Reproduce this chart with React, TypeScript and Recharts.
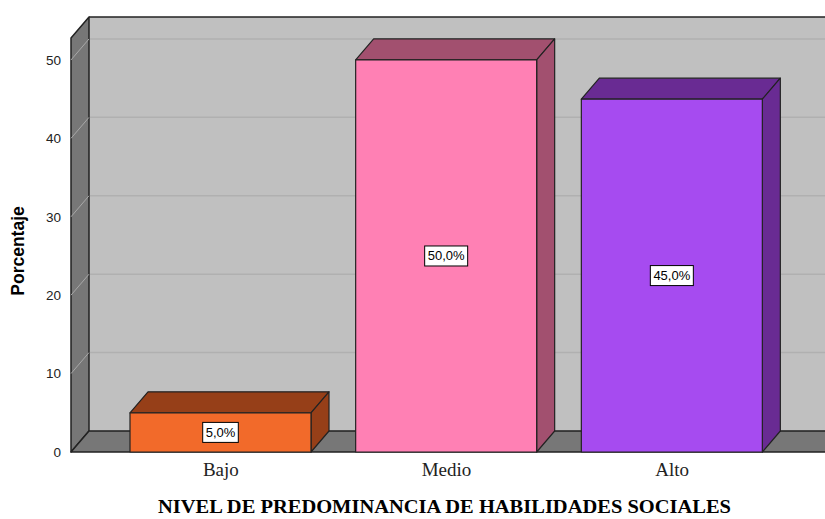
import React from "react";
import { BarChart, Bar, XAxis, YAxis, LabelList, usePlotArea } from "recharts";

const categories = ["Bajo", "Medio", "Alto"];
const percentages = [5.0, 50.0, 45.0];
const yTicks = [0, 10, 20, 30, 40, 50];
const yMax = 52.8;

const frontColors = ["#f26a2a", "#ff80b4", "#a64bf0"];
const darkColors = ["#963f18", "#a2506f", "#692b93"];

const data = categories.map((c, i) => ({
  name: c,
  value: percentages[i],
  front: frontColors[i],
  dark: darkColors[i],
}));

const DX = 18;
const DY = 21;
const WALL = "#777777";
const EDGE = "#222222";

// back wall, side wall, floor and grid lines
function Room() {
  const area = usePlotArea();
  if (!area) return null;
  const { x, y, width, height } = area;
  const bottom = y + height;
  const right = x + width;
  const yPos = (v: number) => bottom - (v / yMax) * height;
  return (
    <g>
      <rect x={x + DX} y={y - DY} width={width + 40} height={height} fill="#c0c0c0" />
      {yTicks.map((t) => (
        <g key={t}>
          <line x1={x + DX} x2={right + 40} y1={yPos(t) - DY} y2={yPos(t) - DY} stroke="#b0b0b0" strokeWidth={1.5} />
        </g>
      ))}
      <polygon
        points={`${x},${y} ${x + DX},${y - DY} ${x + DX},${bottom - DY} ${x},${bottom}`}
        fill={WALL}
        stroke={EDGE}
        strokeWidth={1.5}
        strokeLinejoin="round"
      />
      {yTicks.slice(1).map((t) => (
        <line key={t} x1={x} y1={yPos(t)} x2={x + DX} y2={yPos(t) - DY} stroke="#a8a8a8" strokeWidth={1} />
      ))}
      <polygon
        points={`${x},${bottom} ${x + DX},${bottom - DY} ${right + DX + 20},${bottom - DY} ${right + 20},${bottom}`}
        fill={WALL}
        stroke={EDGE}
        strokeWidth={1.5}
        strokeLinejoin="round"
      />
      <line x1={x + DX} y1={y - DY} x2={right + 40} y2={y - DY} stroke={EDGE} strokeWidth={1.5} />
      <text
        x={18}
        y={251}
        transform={`rotate(-90 18 251)`}
        textAnchor="middle"
        dominantBaseline="central"
        fontFamily="Arial, 'Liberation Sans', sans-serif"
        fontWeight="bold"
        fontSize={17.5}
        fill="#000"
      >
        Porcentaje
      </text>
      <text
        x={444.5}
        y={513}
        textAnchor="middle"
        fontFamily="'Liberation Serif', 'Times New Roman', serif"
        fontWeight="bold"
        fontSize={19}
        textLength={573}
        lengthAdjust="spacingAndGlyphs"
        fill="#000"
      >
        NIVEL DE PREDOMINANCIA DE HABILIDADES SOCIALES
      </text>
    </g>
  );
}

function Box3D(props: any) {
  const { x, y, width, height, payload } = props;
  const b = y + height;
  const r = x + width;
  return (
    <g stroke={EDGE} strokeWidth={1.2} strokeLinejoin="round">
      <polygon
        points={`${x},${y} ${x + DX},${y - DY} ${r + DX},${y - DY} ${r},${y}`}
        fill={payload.dark}
      />
      <polygon
        points={`${r},${y} ${r + DX},${y - DY} ${r + DX},${b - DY} ${r},${b}`}
        fill={payload.dark}
      />
      <rect x={x} y={y} width={width} height={height} fill={payload.front} />
    </g>
  );
}

function ValueLabel(props: any) {
  const { x, y, width, height, value } = props;
  const cx = x + width / 2;
  const cy = y + height / 2;
  const txt = `${Number(value).toFixed(1).replace(".", ",")}%`;
  const w = txt.length * 7.4 + 6;
  return (
    <g>
      <rect x={cx - w / 2} y={cy - 10} width={w} height={20} fill="#ffffff" stroke="#000" strokeWidth={1} />
      <text
        x={cx}
        y={cy + 4.5}
        textAnchor="middle"
        fontFamily="Arial, 'Liberation Sans', sans-serif"
        fontSize={13}
        fill="#000"
      >
        {txt}
      </text>
    </g>
  );
}

function XTick(props: any) {
  const { x, payload } = props;
  return (
    <text
      x={x}
      y={476}
      textAnchor="middle"
      fontFamily="'Liberation Serif', 'Times New Roman', serif"
      fontSize={19}
      fill="#222"
    >
      {payload.value}
    </text>
  );
}

export default function App() {
  return (
    <div style={{ position: "absolute", left: 0, top: 0, background: "#fff" }}>
      <BarChart
        width={825}
        height={519}
        data={data}
        margin={{ top: 38, right: 3, bottom: 37, left: 11 }}
        barSize={181}
      >
        <Room />
        <XAxis
          dataKey="name"
          height={30}
          axisLine={false}
          tickLine={false}
          tick={<XTick />}
          padding={{ left: 37, right: 37 }}
        />
        <YAxis
          type="number"
          domain={[0, yMax]}
          ticks={yTicks}
          width={60}
          axisLine={false}
          tickLine={false}
          tickMargin={4}
          tick={{ fontFamily: "Arial, 'Liberation Sans', sans-serif", fontSize: 13.5, fill: "#222" }}
        />
        <Bar dataKey="value" shape={<Box3D />} isAnimationActive={false}>
          <LabelList dataKey="value" content={<ValueLabel />} />
        </Bar>
      </BarChart>
    </div>
  );
}
